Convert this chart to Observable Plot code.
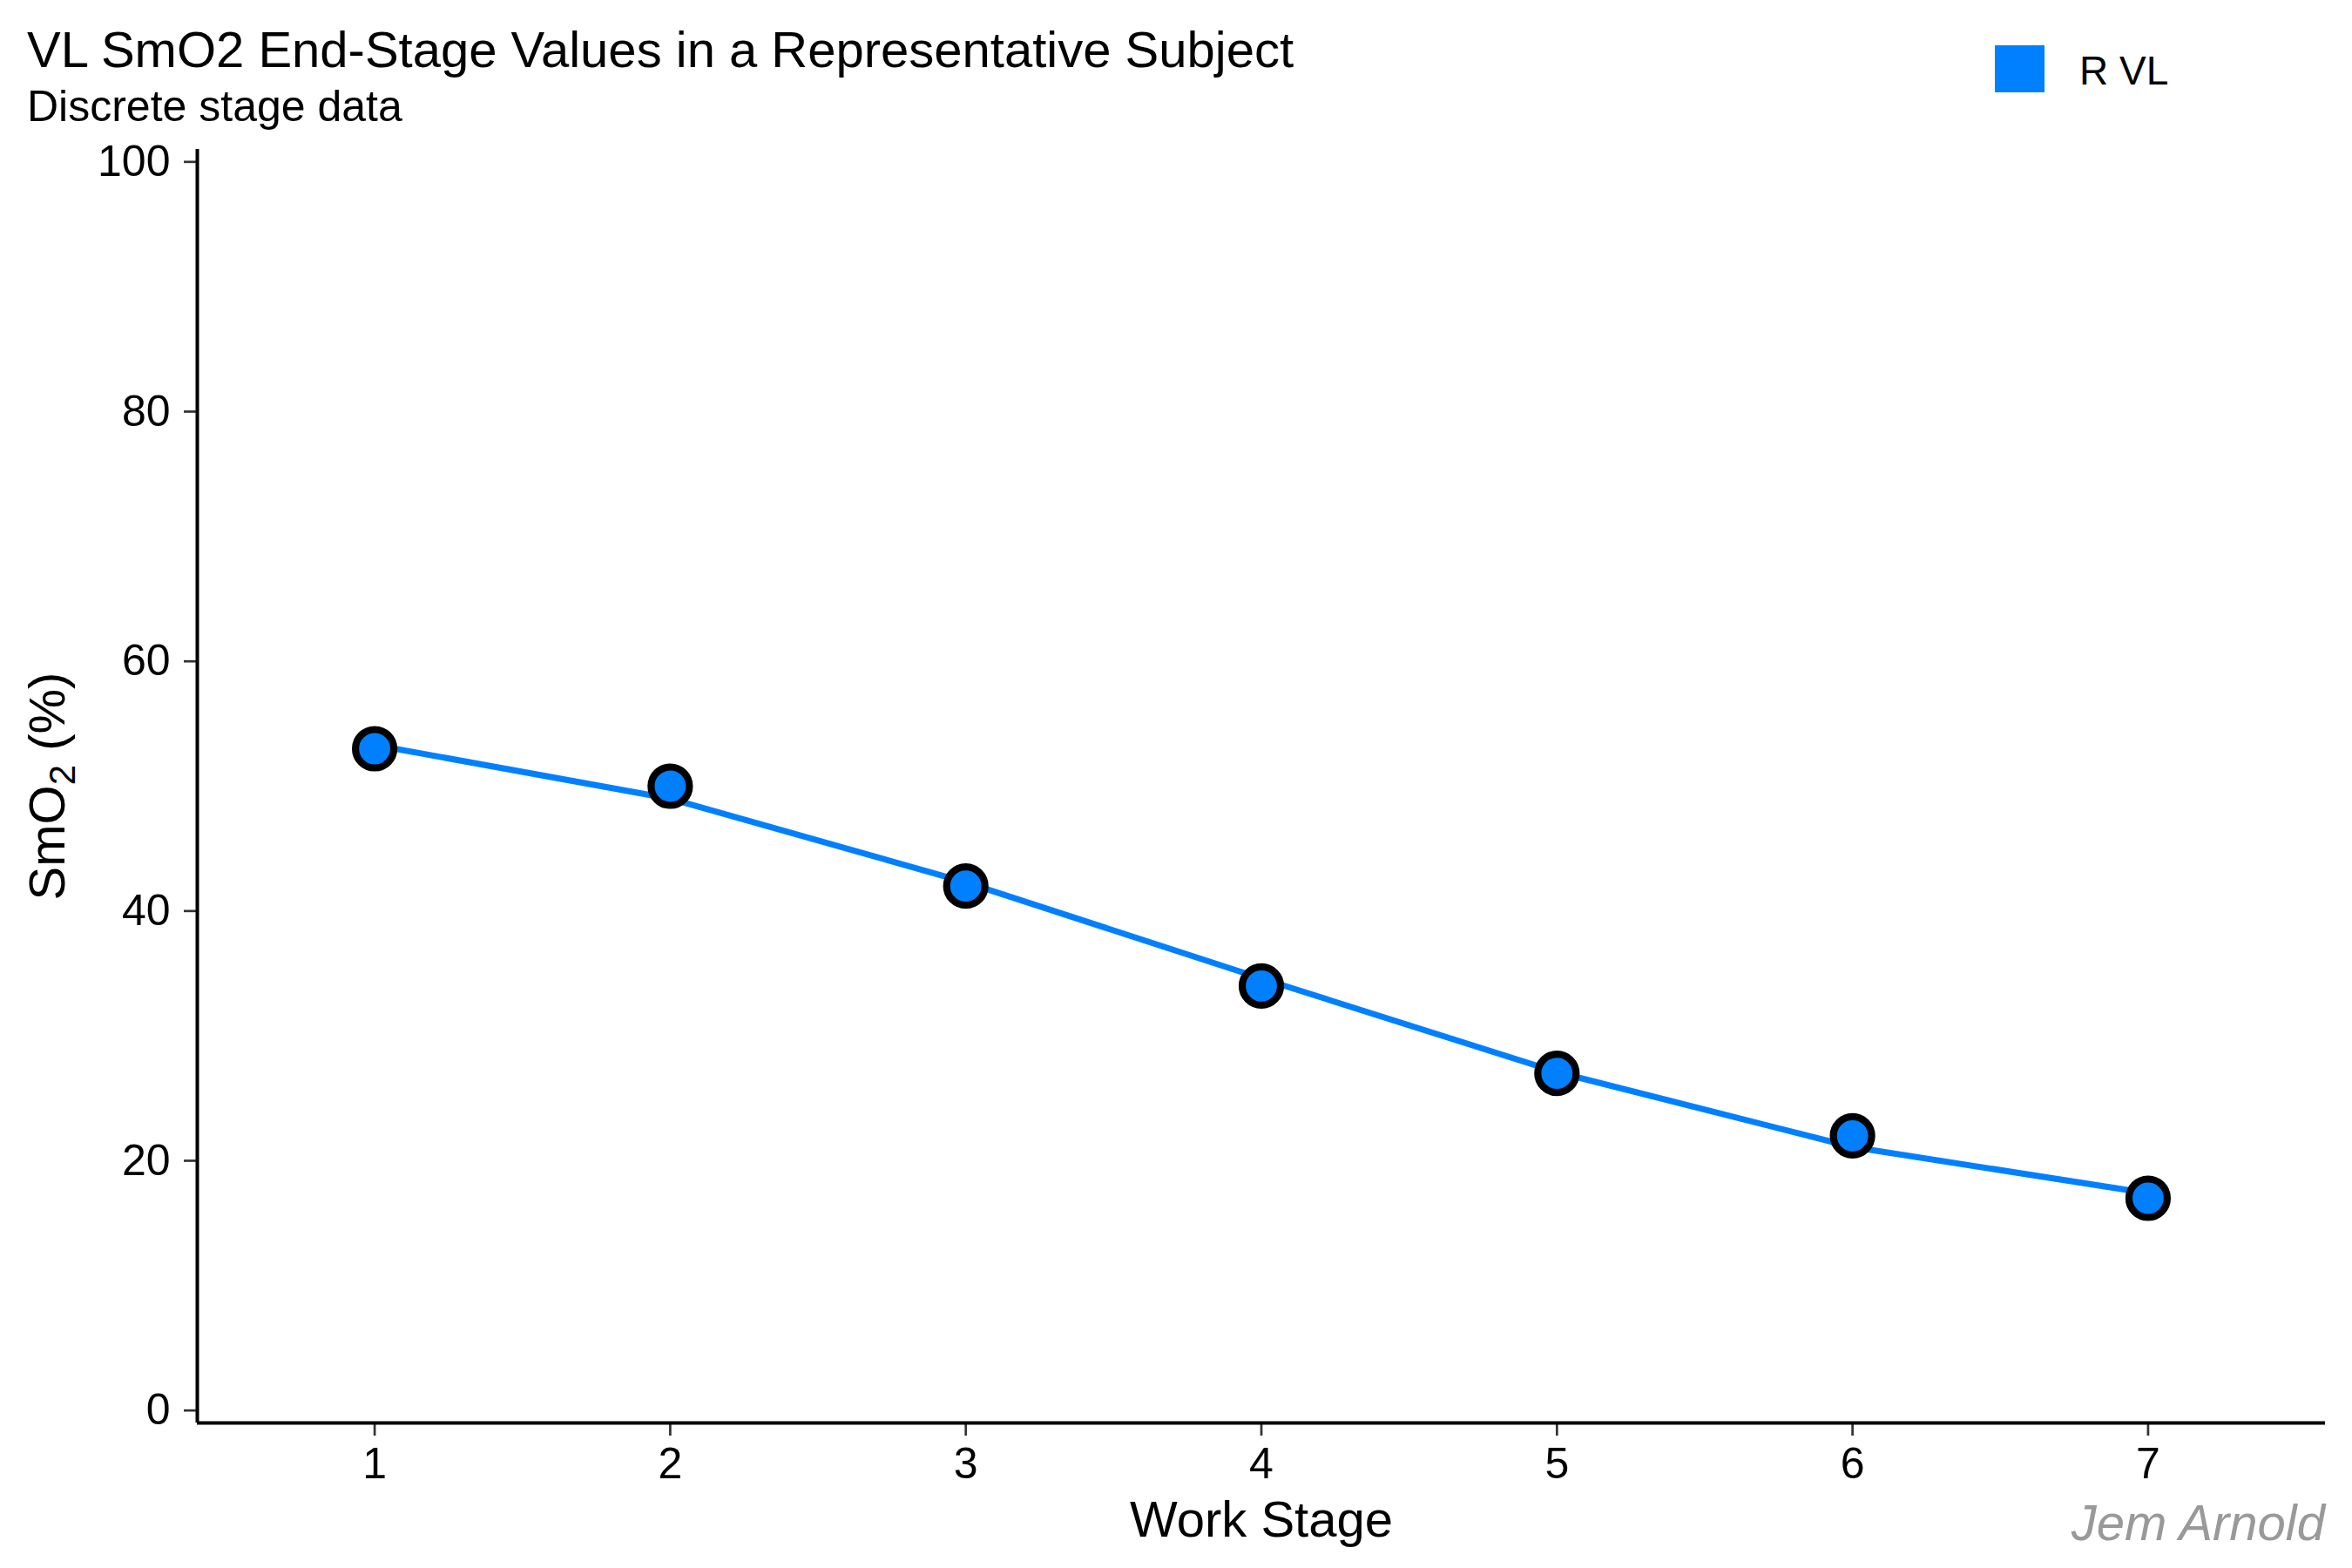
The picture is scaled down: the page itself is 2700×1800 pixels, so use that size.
<!DOCTYPE html>
<html>
<head>
<meta charset="utf-8">
<script src="https://cdn.jsdelivr.net/npm/d3@7"></script>
<script src="https://cdn.jsdelivr.net/npm/@observablehq/plot@0.6"></script>
<style>
  html, body { margin: 0; padding: 0; background: #ffffff; }
  #page { position: relative; width: 2700px; height: 1800px; overflow: hidden; font-family: "Liberation Sans", Arial, Helvetica, sans-serif; color: #000; }
  .abs { position: absolute; line-height: 1; white-space: nowrap; }
  #title { left: 31px; top: 28px; font-size: 58px; }
  #subtitle { left: 31px; top: 97px; font-size: 50px; }
  #legend-key { left: 2290px; top: 52px; width: 57px; height: 54px; background: #0080FF; }
  #legend-label { left: 2387px; top: 58px; font-size: 46px; }
  #chart { position: absolute; left: 0; top: 150px; }
  #caption { right: 31px; top: 1719px; font-size: 58px; font-style: italic; color: #999999; }
</style>
</head>
<body>
<div id="page">
  <div id="title" class="abs">VL SmO2 End-Stage Values in a Representative Subject</div>
  <div id="subtitle" class="abs">Discrete stage data</div>
  <div id="legend-key" class="abs"></div>
  <div id="legend-label" class="abs">R VL</div>
  <div id="chart"></div>
  <div id="caption" class="abs">Jem Arnold</div>
</div>
<script>
// ---- data ----
const stages = [1, 2, 3, 4, 5, 6, 7];
const smo2Values = [53, 50, 42, 34, 27, 22, 17];          // points
const smoothValues = [53.3, 49.0, 42.3, 34.6, 27.1, 21.1, 17.4]; // fitted line
const yTicks = [0, 20, 40, 60, 80, 100];
const xTicks = [1, 2, 3, 4, 5, 6, 7];
const seriesName = "R VL";
const seriesColor = "#0080FF";

const points = stages.map((s, i) => ({stage: s, smo2: smo2Values[i], series: seriesName}));
const fitted = stages.map((s, i) => ({stage: s, smo2: smoothValues[i], series: seriesName}));

const xDomain = [0.4, 7.6];
const yDomain = [-1, 101];

const chart = Plot.plot({
  width: 2700,
  height: 1650,
  marginTop: 21,
  marginBottom: 167,
  marginLeft: 226,
  marginRight: 31,
  style: {fontFamily: '"Liberation Sans", Arial, Helvetica, sans-serif', fontSize: "50px", color: "#000", background: "transparent", overflow: "visible"},
  x: {domain: xDomain},
  y: {domain: yDomain},
  marks: [
    Plot.axisY({ticks: yTicks, tickSize: 15, tickPadding: 16, stroke: "#333333", strokeWidth: 2.7, fill: "#000", fontSize: 50, label: null, tickFormat: d => String(d)}),
    Plot.axisX({ticks: xTicks, tickSize: 15, tickPadding: 13, stroke: "#333333", strokeWidth: 2.7, fill: "#000", fontSize: 50, label: null, tickFormat: d => String(d)}),
    Plot.ruleX([xDomain[0]], {stroke: "#000", strokeWidth: 4}),
    Plot.ruleY([yDomain[0]], {stroke: "#000", strokeWidth: 4}),
    Plot.line(fitted, {x: "stage", y: "smo2", stroke: seriesColor, strokeWidth: 7, curve: "linear"}),
    Plot.dot(points, {x: "stage", y: "smo2", r: 22, fill: seriesColor, stroke: "#000", strokeWidth: 8.2}),
    Plot.text(["Work Stage"], {frameAnchor: "bottom", lineAnchor: "bottom", dy: 130, fontSize: 58, fill: "#000", text: d => d}),
    Plot.text(["SmO2 (%)"], {frameAnchor: "left", textAnchor: "middle", lineAnchor: "middle", rotate: -90, dx: -171, fontSize: 58, fill: "#000", text: d => d, className: "ytitle"})
  ]
});
document.getElementById("chart").appendChild(chart);

// subscript the "2" in the y-axis title
d3.select(chart).selectAll("g.ytitle text").each(function() {
  const t = d3.select(this);
  t.text(null);
  t.append("tspan").text("SmO");
  t.append("tspan").attr("font-size", 42).attr("dy", 12).text("2");
  t.append("tspan").attr("dy", -12).text(" (%)");
});
</script>
</body>
</html>
